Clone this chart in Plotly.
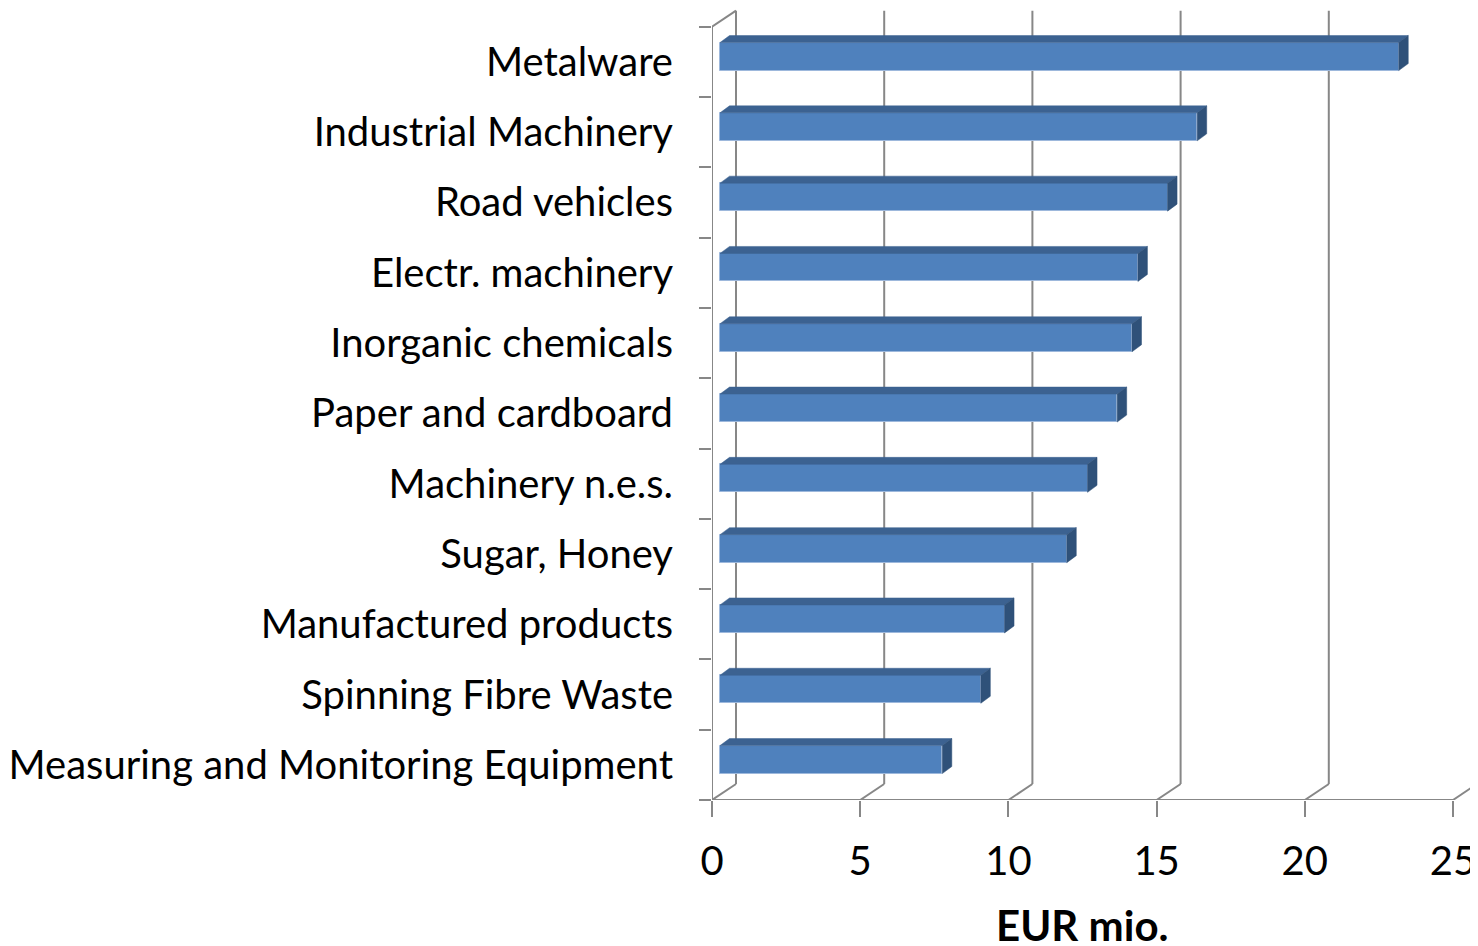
import plotly.graph_objects as go

# data, top to bottom as in the chart
categories = [
    "Metalware",
    "Industrial Machinery",
    "Road vehicles",
    "Electr. machinery",
    "Inorganic chemicals",
    "Paper and cardboard",
    "Machinery n.e.s.",
    "Sugar, Honey",
    "Manufactured products",
    "Spinning Fibre Waste",
    "Measuring and Monitoring Equipment",
]
values = [22.9, 16.1, 15.1, 14.1, 13.9, 13.4, 12.4, 11.7, 9.6, 8.8, 7.5]
x_ticks = [0, 5, 10, 15, 20, 25]
x_title = "EUR mio."

# geometry of the fake 3d box (pixels -> data units)
# page body has an 8px margin, so the figure is 8px smaller each way
W, H = 1470, 938
ML, MR, MT, MB = 704, 0, 0, 146
PXX = 29.64   # px per EUR mio.
PXY = 70.3    # px per category
DX, DY = 24 / PXX, 16 / PXY          # wall depth
FX, FY = 8 / PXX, 5.3 / PXY          # bar front face offset
BX, BY = 9.5 / PXX, 7 / PXY          # bar depth
HALF = 14 / PXY                      # half height of bar front face

n = len(categories)
pos = [n - 1 - k for k in range(n)]
xmax = (W - ML - MR) / PXX
ymax = -0.5 + (H - MT - MB) / PXY

FRONT = "#4F81BD"
TOP = "#3C6291"
SIDE = "#2F5179"
GRID = "#878787"

fig = go.Figure()

# front faces
fig.add_trace(go.Bar(
    x=values, y=[p + FY for p in pos], base=FX, orientation="h",
    width=2 * HALF, marker=dict(color=FRONT, line=dict(color="#9DB8DC", width=1)),
    hoverinfo="skip", showlegend=False,
))

# top and side faces
tx, ty, sx, sy = [], [], [], []
for v, p in zip(values, pos):
    yt = p + FY + HALF
    yb = p + FY - HALF
    tx += [FX, FX + v, FX + v + BX, FX + BX, FX, None]
    ty += [yt, yt, yt + BY, yt + BY, yt, None]
    sx += [FX + v, FX + v, FX + v + BX, FX + v + BX, FX + v, None]
    sy += [yb, yt, yt + BY, yb + BY, yb, None]
fig.add_trace(go.Scatter(x=tx, y=ty, fill="toself", fillcolor=TOP, mode="lines",
                         line=dict(color=TOP, width=0.5), hoverinfo="skip", showlegend=False))
fig.add_trace(go.Scatter(x=sx, y=sy, fill="toself", fillcolor=SIDE, mode="lines",
                         line=dict(color=SIDE, width=0.5), hoverinfo="skip", showlegend=False))

# walls / gridlines
shapes = []
ln = dict(color=GRID, width=2)
lo, hi = -0.5, n - 0.5
shapes.append(dict(type="line", x0=0, y0=lo, x1=0, y1=hi, line=ln, layer="below"))
shapes.append(dict(type="line", x0=0, y0=hi, x1=DX, y1=hi + DY, line=ln, layer="below"))
shapes.append(dict(type="line", x0=0, y0=lo, x1=x_ticks[-1], y1=lo, line=ln, layer="below"))
for t in x_ticks:
    shapes.append(dict(type="line", x0=t, y0=lo, x1=t + DX, y1=lo + DY, line=ln, layer="below"))
    if t < x_ticks[-1]:
        shapes.append(dict(type="line", x0=t + DX, y0=lo + DY, x1=t + DX, y1=hi + DY,
                           line=ln, layer="below"))

fig.update_layout(
    width=W, height=H,
    margin=dict(l=ML, r=MR, t=MT, b=MB, autoexpand=False),
    plot_bgcolor="white", paper_bgcolor="white",
    font=dict(family="Lato", color="black"),
    shapes=shapes,
    bargap=0,
    xaxis=dict(
        range=[0, xmax], tickvals=x_ticks, ticks="outside", ticklen=16,
        tickcolor=GRID, tickwidth=2, showgrid=False, zeroline=False, showline=False,
        tickfont=dict(size=40), ticklabelstandoff=10, automargin=False,
    ),
    yaxis=dict(
        range=[-0.5, ymax], tickmode="array", tickvals=pos, ticktext=categories,
        ticks="", showgrid=False, zeroline=False, showline=False,
        tickfont=dict(size=40), ticklabelstandoff=38, automargin=False,
        minor=dict(tickmode="array", tickvals=[p - 0.5 for p in range(n + 1)],
                   ticks="outside", ticklen=12, tickcolor=GRID, tickwidth=2, showgrid=False),
    ),
)

# axis title centred under the 0..25 floor edge
fig.add_annotation(
    text="<b>" + x_title + "</b>", xref="x", yref="paper",
    x=(x_ticks[0] + x_ticks[-1]) / 2, y=0, yanchor="middle", yshift=-125,
    showarrow=False, font=dict(size=42, color="black"),
)

fig.write_html("out.html")
